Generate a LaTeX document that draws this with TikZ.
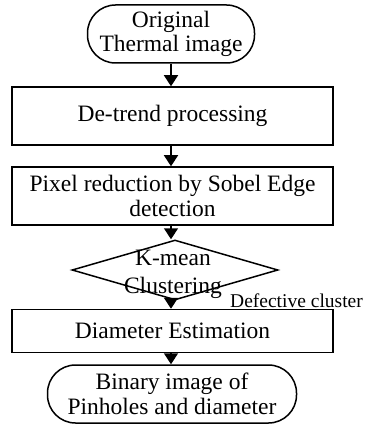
\documentclass[tikz,border=0pt]{standalone}
\usepackage{fontspec}
\setmainfont{Liberation Serif}
\usetikzlibrary{arrows.meta,shapes.geometric}
\begin{document}
\begin{tikzpicture}[x=1pt,y=-1pt,
  txt/.style={font=\fontsize{23.5}{24.5}\selectfont, align=center, inner sep=0pt},
  term/.style={txt, draw, line width=1.5pt, rounded corners=28pt, minimum height=58pt},
  proc/.style={txt, draw, line width=1.5pt, minimum width=321pt},
  decide/.style={draw, diamond, line width=1.5pt, inner sep=0pt, minimum width=206pt, minimum height=60pt},
  flow/.style={line width=1.5pt, -{Triangle[width=14pt,length=11pt]}}]
\useasboundingbox (0,0) rectangle (364,427);

% flow steps
\node[term, minimum width=167pt] (orig) at (171,34) {Original\\Thermal image};
\node[proc, minimum height=58pt] (detrend) at (172.5,116) {De-trend processing};
\node[proc, minimum height=58pt] (sobel) at (172.5,196) {Pixel reduction by Sobel Edge\\detection};
\node[decide] (kmean) at (175,270) {};
\node[txt, font=\fontsize{23.5}{28}\selectfont] (kmeantxt) at (173,274) {K-mean\\Clustering};
\node[proc, minimum height=43pt] (diam) at (172.5,331) {Diameter Estimation};
\node[term, minimum width=249pt] (result) at (172,394) {Binary image of\\Pinholes and diameter};

% branch label
\node[txt, font=\fontsize{19.5}{21}\selectfont, anchor=base east] (deflabel) at (363,307) {Defective cluster};

% connectors
\draw[flow] (orig.south) -- (orig.south |- detrend.north);
\draw[flow] (detrend.south -| orig.south) -- (orig.south |- sobel.north);
\draw[flow] (sobel.south -| orig.south) -- (orig.south |- kmean.north);
\draw[flow] (orig.south |- kmean.south) -- (orig.south |- diam.north);
\draw[flow] (diam.south -| orig.south) -- (orig.south |- result.north);
\end{tikzpicture}
\end{document}
